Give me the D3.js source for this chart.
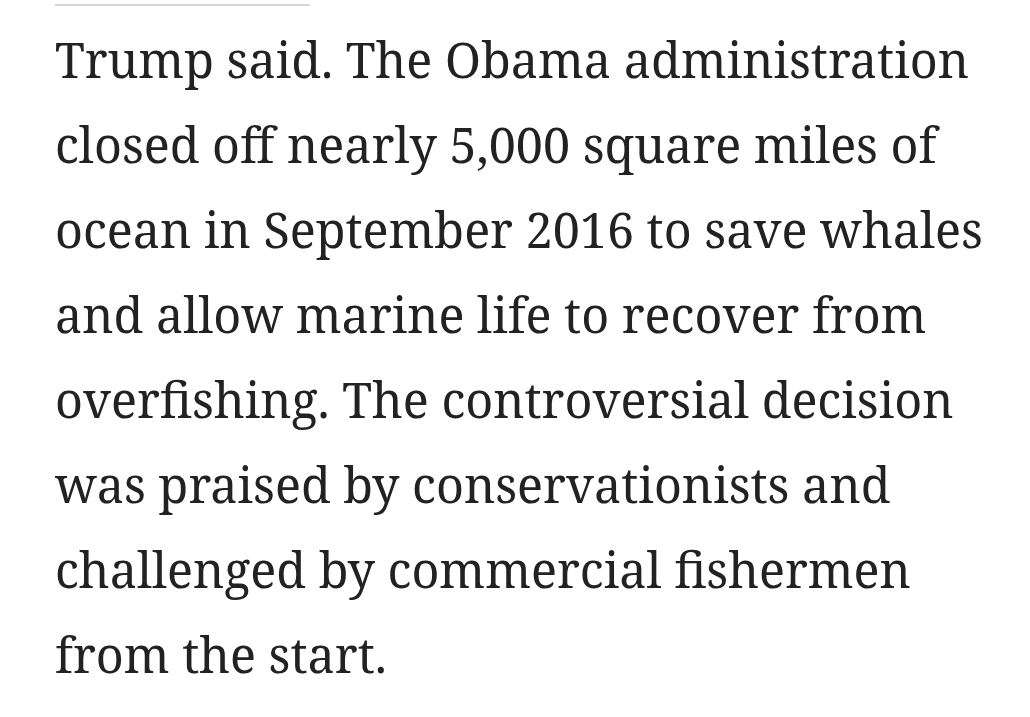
<!DOCTYPE html>
<html>
<head>
<meta charset="utf-8">
<script src="https://cdn.jsdelivr.net/npm/d3@7"></script>
<style>
  body { margin: 0; background: #fff; }
</style>
</head>
<body>
<script>
// Paragraph lines as shown in the screenshot
var lines = [
    "Trump said. The Obama administration",
    "closed off nearly 5,000 square miles of",
    "ocean in September 2016 to save whales",
    "and allow marine life to recover from",
    "overfishing. The controversial decision",
    "was praised by conservationists and",
    "challenged by commercial fishermen",
    "from the start."
];

var width = 1030, height = 717;

var svg = d3.select("body").append("svg")
    .attr("width", width)
    .attr("height", height);

// Divider rule at the top
svg.append("rect")
    .attr("x", 55).attr("y", 4)
    .attr("width", 255).attr("height", 2)
    .attr("fill", "#d6d6d6");

// Baseline positions for each line
var y = d3.scaleLinear().domain([0, lines.length - 1]).range([78, 673]);

svg.selectAll("text.line")
    .data(lines)
    .enter().append("text")
    .attr("class", "line")
    .attr("x", 55)
    .attr("y", (d, i) => y(i))
    .attr("font-family", "'Noto Serif', 'DejaVu Serif', serif")
    .attr("font-size", 48.5)
    .attr("fill", "#222")
    .text(d => d);
</script>
</body>
</html>
